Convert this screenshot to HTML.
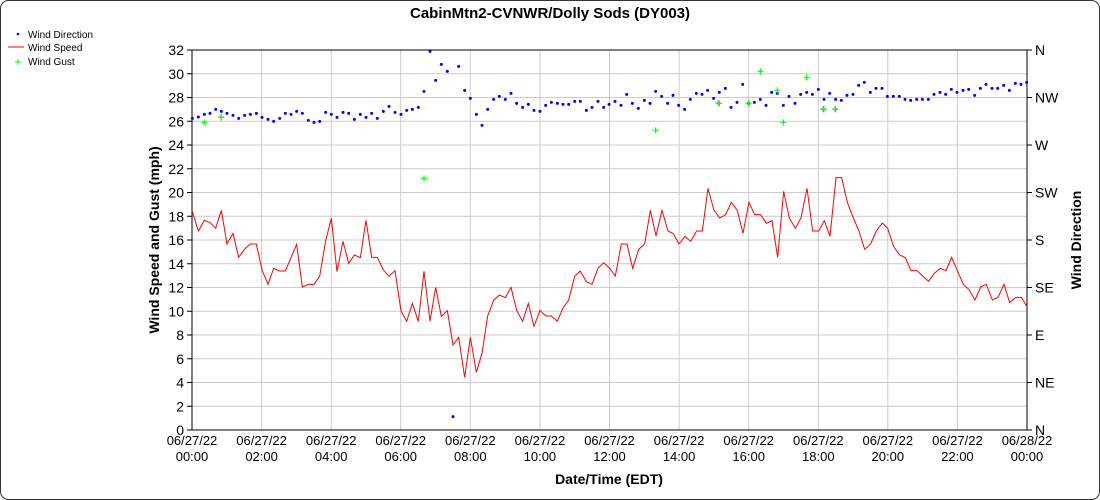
<!DOCTYPE html>
<html><head><meta charset="utf-8"><style>
body{margin:0;background:#fff}
svg{display:block;font-family:"Liberation Sans",sans-serif}
</style></head><body>
<svg width="1100" height="500" viewBox="0 0 1100 500" xmlns="http://www.w3.org/2000/svg">
<rect x="0.5" y="0.5" width="1099" height="499" rx="8" fill="#fff" stroke="#333"/>
<text x="550" y="18" text-anchor="middle" font-size="15" font-weight="bold">CabinMtn2-CVNWR/Dolly Sods (DY003)</text>
<circle cx="18" cy="34" r="1.3" fill="#00f"/><text x="28" y="38" font-size="10">Wind Direction</text>
<line x1="8" y1="47" x2="24" y2="47" stroke="#f00"/><text x="28" y="51" font-size="10">Wind Speed</text>
<path d="M15 62h6M18 59v6" stroke="#0f0"/><text x="28" y="65" font-size="10">Wind Gust</text>
<g stroke="#ccc" stroke-width="1" fill="none">
<path d="M192 73.75H1027M192 97.5H1027M192 121.25H1027M192 145H1027M192 168.75H1027M192 192.5H1027M192 216.25H1027M192 240H1027M192 263.75H1027M192 287.5H1027M192 311.25H1027M192 335H1027M192 358.75H1027M192 382.5H1027M192 406.25H1027"/>
<path d="M261.6 50V430M331.2 50V430M400.7 50V430M470.3 50V430M539.9 50V430M609.5 50V430M679.1 50V430M748.7 50V430M818.3 50V430M887.8 50V430M957.4 50V430"/>
</g>
<g stroke="#000" fill="none"><path d="M192 50H1027M192 50V430H1027V50"/>
<path d="M187 50h5M187 73.75h5M187 97.5h5M187 121.25h5M187 145h5M187 168.75h5M187 192.5h5M187 216.25h5M187 240h5M187 263.75h5M187 287.5h5M187 311.25h5M187 335h5M187 358.75h5M187 382.5h5M187 406.25h5M187 430h5"/>
<path d="M1027 50h5M1027 97.5h5M1027 145h5M1027 192.5h5M1027 240h5M1027 287.5h5M1027 335h5M1027 382.5h5M1027 430h5"/>
</g>
<g font-size="14" text-anchor="end">
<text x="184" y="55">32</text><text x="184" y="78.75">30</text><text x="184" y="102.5">28</text><text x="184" y="126.25">26</text><text x="184" y="150">24</text><text x="184" y="173.75">22</text><text x="184" y="197.5">20</text><text x="184" y="221.25">18</text><text x="184" y="245">16</text><text x="184" y="268.75">14</text><text x="184" y="292.5">12</text><text x="184" y="316.25">10</text><text x="184" y="340">8</text><text x="184" y="363.75">6</text><text x="184" y="387.5">4</text><text x="184" y="411.25">2</text><text x="184" y="435">0</text>
</g>
<g font-size="14">
<text x="1035" y="55">N</text><text x="1035" y="102.5">NW</text><text x="1035" y="150">W</text><text x="1035" y="197.5">SW</text><text x="1035" y="245">S</text><text x="1035" y="292.5">SE</text><text x="1035" y="340">E</text><text x="1035" y="387.5">NE</text><text x="1035" y="435">N</text>
</g>
<g font-size="13" text-anchor="middle">
<text x="192" y="445">06/27/22</text><text x="192" y="461">00:00</text>
<text x="261.6" y="445">06/27/22</text><text x="261.6" y="461">02:00</text>
<text x="331.2" y="445">06/27/22</text><text x="331.2" y="461">04:00</text>
<text x="400.7" y="445">06/27/22</text><text x="400.7" y="461">06:00</text>
<text x="470.3" y="445">06/27/22</text><text x="470.3" y="461">08:00</text>
<text x="539.9" y="445">06/27/22</text><text x="539.9" y="461">10:00</text>
<text x="609.5" y="445">06/27/22</text><text x="609.5" y="461">12:00</text>
<text x="679.1" y="445">06/27/22</text><text x="679.1" y="461">14:00</text>
<text x="748.7" y="445">06/27/22</text><text x="748.7" y="461">16:00</text>
<text x="818.3" y="445">06/27/22</text><text x="818.3" y="461">18:00</text>
<text x="887.8" y="445">06/27/22</text><text x="887.8" y="461">20:00</text>
<text x="957.4" y="445">06/27/22</text><text x="957.4" y="461">22:00</text>
<text x="1027" y="445">06/28/22</text><text x="1027" y="461">00:00</text>
</g>
<text x="609" y="484" text-anchor="middle" font-size="14" font-weight="bold">Date/Time (EDT)</text>
<text transform="translate(159,240) rotate(-90)" text-anchor="middle" font-size="14" font-weight="bold">Wind Speed and Gust (mph)</text>
<text transform="translate(1081,240) rotate(-90)" text-anchor="middle" font-size="14" font-weight="bold">Wind Direction</text>
<g transform="translate(180,40) scale(0.33333)">
<polyline fill="none" stroke="#f00" stroke-width="3" points="37,515 55,573 73,541 90,548 107,565 124,511 141,612 159,580 176,652 194,627 211,612 229,612 246,690 264,733 281,685 299,693 316,693 333,653 350,613 367,741 385,733 402,733 419,709 437,602 454,535 471,695 489,604 506,670 523,645 541,653 558,541 575,652 592,652 610,690 627,709 645,692 663,813 680,844 697,790 715,844 732,694 750,844 767,742 784,829 802,812 819,915 836,892 854,1012 871,892 889,997 906,940 923,828 941,781 958,765 976,773 993,742 1010,811 1028,844 1045,790 1062,859 1080,811 1097,828 1114,828 1132,844 1149,804 1166,780 1184,709 1201,693 1219,725 1236,733 1254,685 1271,668 1289,685 1306,708 1324,612 1341,612 1358,685 1376,628 1394,612 1411,511 1428,588 1446,511 1464,573 1480,581 1497,612 1515,589 1532,604 1550,573 1567,573 1584,445 1602,511 1619,534 1637,524 1654,487 1672,511 1689,580 1707,487 1724,524 1742,524 1759,550 1776,542 1793,652 1811,454 1828,534 1846,565 1863,534 1881,445 1898,573 1916,573 1933,542 1950,589 1968,413 1985,413 2002,487 2020,534 2037,573 2054,628 2072,612 2089,573 2107,549 2123,565 2141,620 2159,645 2176,653 2193,692 2211,692 2228,708 2246,724 2263,700 2281,685 2298,692 2315,652 2332,692 2350,733 2367,749 2385,780 2402,741 2419,733 2437,780 2454,772 2472,733 2489,788 2507,772 2524,772 2541,800"/>
</g>
<g fill="#00f" id="dots"></g>
<g stroke="#888" stroke-width="1" fill="none"><path d="M218 117h6M221 114v6M715 103h6M718 100v6M820 109h6M823 106v6M832 109h6M835 106v6"/></g>
<g stroke="#0f0" stroke-width="1.2" fill="none" id="gust"></g>
<script>
var b=[[37,235],[55,231],[73,223],[90,220],[107,208],[124,214],[141,220],[159,226],[176,235],[194,226],[211,223],[229,220],[246,232],[264,238],[281,244],[299,235],[316,220],[333,223],[350,214],[367,220],[385,241],[402,247],[419,244],[437,217],[454,223],[471,232],[489,217],[506,220],[523,238],[541,223],[558,232],[575,220],[592,235],[610,214],[627,199],[645,217],[663,223],[680,211],[697,208],[715,202],[732,154],[750,34],[767,121],[784,73],[802,94],[819,1130],[836,79],[854,151],[871,175],[889,223],[906,256],[923,208],[941,178],[958,169],[976,178],[993,160],[1010,190],[1028,202],[1045,193],[1062,211],[1080,214],[1097,196],[1114,187],[1132,190],[1149,193],[1166,193],[1184,184],[1201,184],[1219,211],[1236,202],[1254,184],[1271,202]];
var b2=[[27,193],[45,184],[63,196],[80,163],[97,190],[115,205],[133,181],[150,190],[167,154],[185,169],[203,190],[219,166],[236,196],[254,208],[271,178],[289,160],[306,163],[323,151],[341,175],[358,157],[376,145],[393,202],[411,187],[428,133],[446,190],[463,187],[481,178],[498,196],[515,157],[532,160],[550,196],[567,169],[585,190],[602,163],[620,157],[637,163],[655,148],[672,178],[689,160],[707,178],[724,181],[741,166],[759,163],[776,136],[793,127],[811,157],[828,145],[846,145],[862,169],[880,169],[898,169],[915,178],[932,181],[950,178],[967,178],[985,178],[1002,163],[1020,157],[1037,163],[1054,148],[1071,157],[1089,151],[1106,148],[1124,166],[1141,145],[1158,133],[1176,145],[1193,145],[1211,136],[1228,151],[1246,130],[1263,133],[1280,127]];
var g1=[[73,247],[124,232],[732,415]],g2=[[167,271],[358,190],[446,190],[481,94],[532,151],[550,247],[620,112],[672,208],[707,208]];
var ns="http://www.w3.org/2000/svg",D=document.getElementById("dots"),G=document.getElementById("gust"),s="";
function dot(x,y){var c=document.createElementNS(ns,"circle");c.setAttribute("cx",x);c.setAttribute("cy",y);c.setAttribute("r",1.5);D.appendChild(c);}
b.forEach(function(p){dot(180+p[0]/3,40+p[1]/3)});b2.forEach(function(p){dot(600+p[0]/3,40+p[1]/3)});
function gp(x,y){s+="M"+(x-3)+" "+y+"h6M"+x+" "+(y-3)+"v6";}
g1.forEach(function(p){gp(180+p[0]/3,40+p[1]/3)});g2.forEach(function(p){gp(600+p[0]/3,40+p[1]/3)});
var pa=document.createElementNS(ns,"path");pa.setAttribute("d",s);G.appendChild(pa);
</script>
</svg>
</body></html>
